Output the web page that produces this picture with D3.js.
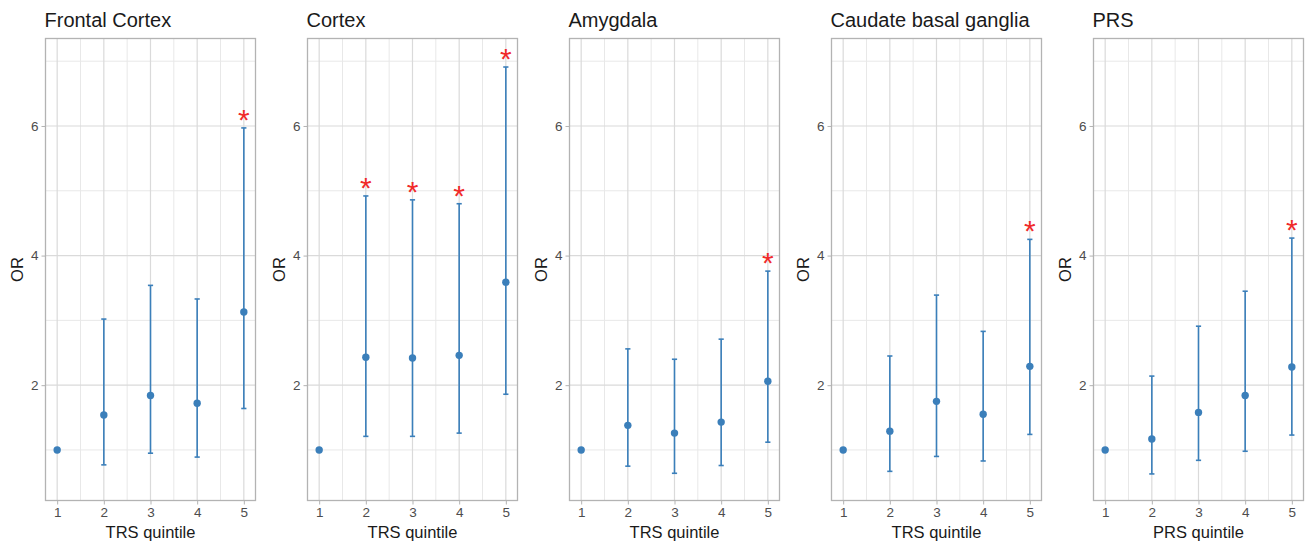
<!DOCTYPE html>
<html lang="en">
<head>
  <meta charset="UTF-8" />
  <title>OR by quintile</title>
  <style>
    body { margin: 0; background: #fff; font-family: "Liberation Sans", Arial, Helvetica, sans-serif; }
    svg { display: block; }
  </style>
</head>
<body>
  <svg id="chart"></svg>
  <script src="https://d3js.org/d3.v7.min.js"></script>
  <script>
    // panel titles + x axis titles
    const panels = ["Frontal Cortex", "Cortex", "Amygdala", "Caudate basal ganglia", "PRS"];
    const xTitles = ["TRS quintile", "TRS quintile", "TRS quintile", "TRS quintile", "PRS quintile"];
    const quintiles = [1, 2, 3, 4, 5];

    // odds ratios, lower and upper CI, per panel
    const orValues = [
      [1.00, 1.54, 1.84, 1.72, 3.13],
      [1.00, 2.43, 2.42, 2.46, 3.59],
      [1.00, 1.38, 1.26, 1.43, 2.06],
      [1.00, 1.29, 1.75, 1.55, 2.29],
      [1.00, 1.17, 1.58, 1.84, 2.28]
    ];
    const lowerCI = [
      [1.00, 0.77, 0.95, 0.89, 1.64],
      [1.00, 1.21, 1.21, 1.26, 1.86],
      [1.00, 0.75, 0.64, 0.76, 1.12],
      [1.00, 0.67, 0.90, 0.83, 1.24],
      [1.00, 0.63, 0.84, 0.98, 1.23]
    ];
    const upperCI = [
      [1.00, 3.02, 3.54, 3.33, 5.97],
      [1.00, 4.92, 4.86, 4.80, 6.91],
      [1.00, 2.56, 2.40, 2.71, 3.76],
      [1.00, 2.45, 3.39, 2.83, 4.25],
      [1.00, 2.14, 2.91, 3.45, 4.27]
    ];
    const significant = [
      [false, false, false, false, true],
      [false, true, true, true, true],
      [false, false, false, false, true],
      [false, false, false, false, true],
      [false, false, false, false, true]
    ];
    const yTicks = [2, 4, 6];
    const yMinor = [1, 3, 5, 7];

    const W = 1307, H = 542;
    const panelLeft = 45.5, panelStep = 262, panelW = 210;
    const plotTop = 38.5, plotBottom = 500.5;
    const blue = "#3b7fba";

    const svg = d3.select("#chart").attr("width", W).attr("height", H);

    const ph = plotBottom - plotTop;
    const x = d3.scaleLinear().domain([0.75, 5.25]).range([0, panelW]);
    const y = d3.scaleLinear().domain([0.22, 7.35]).range([ph, 0]);

    panels.forEach((name, i) => {
      const g = svg.append("g")
        .attr("transform", `translate(${panelLeft + i * panelStep},${plotTop})`);

      const rows = quintiles.map((q, j) => ({
        q, or: orValues[i][j], lo: lowerCI[i][j], hi: upperCI[i][j], sig: significant[i][j]
      }));

      // minor grid
      g.append("g").selectAll("line").data(yMinor).join("line")
        .attr("x1", 0).attr("x2", panelW)
        .attr("y1", d => y(d)).attr("y2", d => y(d))
        .attr("stroke", "#e8e8e8").attr("stroke-width", 1);
      g.append("g").selectAll("line").data(quintiles.slice(0, 4).map(d => d + 0.5)).join("line")
        .attr("y1", 0).attr("y2", ph)
        .attr("x1", d => x(d)).attr("x2", d => x(d))
        .attr("stroke", "#e8e8e8").attr("stroke-width", 1);
      // major grid
      g.append("g").selectAll("line").data(yTicks).join("line")
        .attr("x1", 0).attr("x2", panelW)
        .attr("y1", d => y(d)).attr("y2", d => y(d))
        .attr("stroke", "#dadada").attr("stroke-width", 1.2);
      g.append("g").selectAll("line").data(quintiles).join("line")
        .attr("y1", 0).attr("y2", ph)
        .attr("x1", d => x(d)).attr("x2", d => x(d))
        .attr("stroke", "#dadada").attr("stroke-width", 1.2);

      // axes
      const ay = g.append("g").call(d3.axisLeft(y).tickValues(yTicks).tickSize(4).tickPadding(3));
      const ax = g.append("g").attr("transform", `translate(0,${ph})`)
        .call(d3.axisBottom(x).tickValues(quintiles).tickFormat(d3.format("d")).tickSize(4).tickPadding(3));
      [ax, ay].forEach(a => {
        a.select(".domain").remove();
        a.selectAll(".tick line").attr("stroke", "#b3b3b3");
        a.selectAll(".tick text").attr("fill", "#4d4d4d")
          .style("font-size", "13.5px").style("font-family", "Liberation Sans, Arial, sans-serif");
      });

      // border
      g.append("rect").attr("x", 0).attr("y", 0).attr("width", panelW).attr("height", ph)
        .attr("fill", "none").attr("stroke", "#b3b3b3").attr("stroke-width", 1.3);

      // error bars
      const eb = g.append("g").selectAll("g").data(rows.filter(d => d.hi !== d.lo)).join("g")
        .attr("stroke", blue).attr("stroke-width", 1.6);
      eb.append("line")
        .attr("x1", d => x(d.q)).attr("x2", d => x(d.q))
        .attr("y1", d => y(d.lo)).attr("y2", d => y(d.hi));
      eb.append("line")
        .attr("x1", d => x(d.q) - 2.6).attr("x2", d => x(d.q) + 2.6)
        .attr("y1", d => y(d.lo)).attr("y2", d => y(d.lo));
      eb.append("line")
        .attr("x1", d => x(d.q) - 2.6).attr("x2", d => x(d.q) + 2.6)
        .attr("y1", d => y(d.hi)).attr("y2", d => y(d.hi));

      // points
      g.append("g").selectAll("circle").data(rows).join("circle")
        .attr("cx", d => x(d.q)).attr("cy", d => y(d.or))
        .attr("r", 3.7).attr("fill", blue);

      // significance stars
      g.append("g").selectAll("text").data(rows.filter(d => d.sig)).join("text")
        .attr("x", d => x(d.q)).attr("y", d => y(d.hi) + 2)
        .attr("text-anchor", "middle")
        .attr("fill", "#f02a2a")
        .style("font-size", "30px")
        .style("font-family", "Liberation Sans, Arial, sans-serif")
        .text("*");

      // titles
      g.append("text").attr("x", -1).attr("y", -12)
        .attr("fill", "#1a1a1a").style("font-size", "20px")
        .text(name);
      g.append("text").attr("x", panelW / 2).attr("y", ph + 37)
        .attr("text-anchor", "middle").attr("fill", "#1a1a1a").style("font-size", "16.5px")
        .text(xTitles[i]);
      g.append("text")
        .attr("transform", `translate(-23,${ph / 2}) rotate(-90)`)
        .attr("text-anchor", "middle").attr("fill", "#1a1a1a").style("font-size", "16.5px")
        .text("OR");
    });
  </script>
</body>
</html>
